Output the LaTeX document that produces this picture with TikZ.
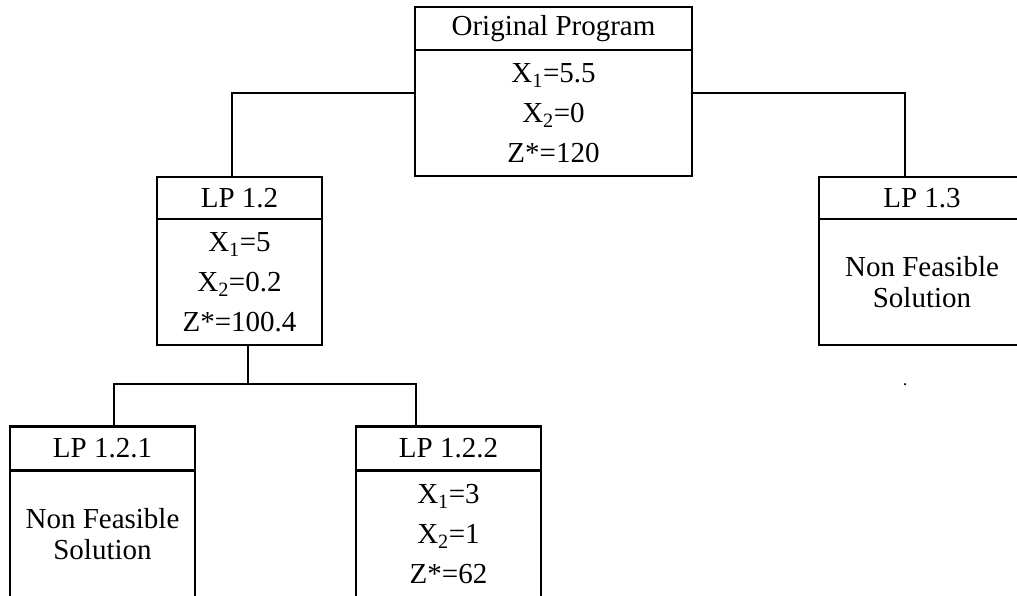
\documentclass[tikz,border=0pt]{standalone}
\usepackage{fontspec}
\setmainfont{Liberation Serif}
\usetikzlibrary{positioning}

\begin{document}
\begin{tikzpicture}[
  x=1pt, y=1pt,
  hdr/.style={draw, line width=2.8pt, outer sep=0pt, inner sep=2pt, minimum height=42pt, align=center, font=\fontsize{29}{33}\selectfont},
  vals/.style={draw, line width=2.8pt, outer sep=0pt, inner sep=2pt, minimum height=126pt, align=center, font=\fontsize{29}{40}\selectfont},
  nf/.style={vals, font=\fontsize{29}{31}\selectfont},
  ln/.style={line width=2.8pt},
  node distance=0pt
]
\useasboundingbox (0,0) rectangle (1017,595);
\clip (0,0) rectangle (1017,595);

% root
\node[hdr, minimum width=277pt, minimum height=43pt] (orig) at (553.5,566.5) {Original Program};
\node[vals, minimum width=277pt, below=of orig] (origv) {X\textsubscript{1}=5.5\\ X\textsubscript{2}=0\\ Z*=120};

% second level
\node[hdr, minimum width=165pt] (lp12) at (239.5,397) {LP 1.2};
\node[vals, minimum width=165pt, below=of lp12] (lp12v) {X\textsubscript{1}=5\\ X\textsubscript{2}=0.2\\ Z*=100.4};
\node[hdr, minimum width=206pt] (lp13) at (922,397) {LP 1.3};
\node[nf, minimum width=206pt, below=of lp13] (lp13v) {Non Feasible\\ Solution};
\node[anchor=base, inner sep=0pt, font=\fontsize{18}{18}\selectfont] (stray) at (905,209.5) {.};

% third level
\node[hdr, minimum width=185pt, minimum height=44pt] (lp121) at (102.5,146.5) {LP 1.2.1};
\node[nf, minimum width=185pt, minimum height=128pt, below=of lp121] (lp121v) {Non Feasible\\ Solution};
\node[hdr, minimum width=185pt, minimum height=44pt] (lp122) at (448.5,146.5) {LP 1.2.2};
\node[vals, minimum width=185pt, minimum height=128pt, below=of lp122] (lp122v) {X\textsubscript{1}=3\\ X\textsubscript{2}=1\\ Z*=62};

\draw[ln] ([yshift=20pt]origv.west) -| ([xshift=-7.5pt]lp12.north);
\draw[ln] ([yshift=20pt]origv.east) -| ([xshift=-17pt]lp13.north);
\draw[ln] ([xshift=8.5pt]lp12v.south) -- ++(0,-39) coordinate (fork);
\draw[ln] ([xshift=11.5pt]lp121.north) |- (fork) -| ([xshift=-32.5pt]lp122.north);
\end{tikzpicture}
\end{document}
